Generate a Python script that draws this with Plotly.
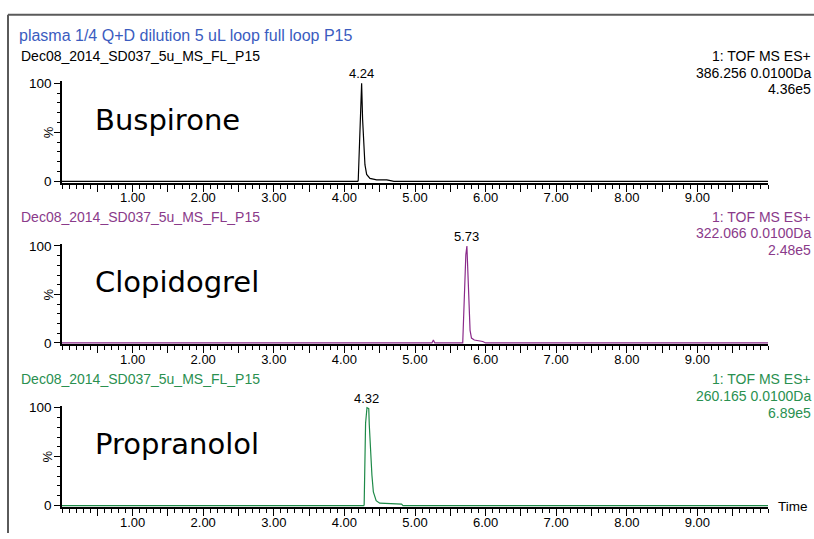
import plotly.graph_objects as go

# ---------------- data ----------------
time_axis_labels = ["1.00", "2.00", "3.00", "4.00", "5.00", "6.00", "7.00", "8.00", "9.00"]
time_axis_values = [1, 2, 3, 4, 5, 6, 7, 8, 9]

buspirone_time = [0.00, 4.19, 4.196, 4.21, 4.23, 4.244, 4.258, 4.272, 4.291, 4.315, 4.362, 4.457, 4.60, 4.67, 4.70, 10.00]
buspirone_pct = [0, 0, 1, 33, 70, 100, 63, 37, 17, 7, 3, 1.5, 1.5, 0.5, 0, 0]

clopidogrel_time = [0.00, 5.24, 5.26, 5.28, 5.676, 5.695, 5.72, 5.735, 5.76, 5.78, 5.80, 5.84, 5.96, 6.00, 10.00]
clopidogrel_pct = [0, 0, 3, 0, 0, 40, 91, 100, 40, 13, 5, 3, 1.5, 0, 0]

propranolol_time = [0.00, 4.275, 4.28, 4.30, 4.32, 4.345, 4.352, 4.37, 4.39, 4.41, 4.45, 4.50, 4.645, 4.81, 4.83, 10.00]
propranolol_pct = [0, 0, 1, 84, 100, 99, 83, 54, 31, 14, 5, 2.5, 2, 1.5, 0, 0]

compounds = ["Buspirone", "Clopidogrel", "Propranolol"]
peak_rt = [4.24, 5.73, 4.32]
peak_labels = ["4.24", "5.73", "4.32"]
sample_names = ["Dec08_2014_SD037_5u_MS_FL_P15"] * 3
mass_labels = ["386.256 0.0100Da", "322.066 0.0100Da", "260.165 0.0100Da"]
intensity_labels = ["4.36e5", "2.48e5", "6.89e5"]
scan_label = "1: TOF MS ES+"
header_title = "plasma 1/4 Q+D dilution 5 uL loop full loop P15"

# ---------------- styling / layout ----------------
W, H = 814, 539
colors = ["#000000", "#8a2a8a", "#1e8a48"]
text_colors = ["#000000", "#8a3a8a", "#2a9050"]
times = [buspirone_time, clopidogrel_time, propranolol_time]
pcts = [buspirone_pct, clopidogrel_pct, propranolol_pct]

# pixel positions of value 0 and 100 of each panel
panel_px = [(180, 80), (345, 246), (511, 411)]
label_rows = [52, 216, 382]
x_left_px, x_right_px = 62, 768
YMIN, YMAX = -1.5, 102


def px_x(p):
    return p / W


def px_y(p):
    return 1 - p / H


fig = go.Figure()
font_small = "Liberation Sans, Arial, sans-serif"

layout = dict(
    width=W, height=H,
    margin=dict(l=0, r=0, t=0, b=0),
    paper_bgcolor="white", plot_bgcolor="white",
    showlegend=False,
    font=dict(family=font_small, size=13, color="black"),
)
annotations = []
for i in range(3):
    n = "" if i == 0 else str(i + 1)
    y0, y100 = panel_px[i]
    ppu = (y0 - y100) / 100.0
    bottom = y0 - YMIN * ppu
    top = y0 - YMAX * ppu
    fig.add_trace(go.Scatter(
        x=times[i], y=pcts[i], mode="lines",
        line=dict(color=colors[i], width=1.2),
        xaxis="x" + n, yaxis="y" + n, hoverinfo="skip",
    ))
    layout["xaxis" + n] = dict(
        domain=[px_x(x_left_px), px_x(x_right_px)], range=[0, 10],
        anchor="y" + n, showgrid=False, zeroline=False,
        showline=True, linecolor="black", linewidth=2,
        ticks="outside", ticklen=7, tickwidth=1, tickcolor="black",
        tickvals=[v / 2 for v in range(1, 20)],
        ticktext=[time_axis_labels[time_axis_values.index(v / 2)] if (v / 2) in time_axis_values else "" for v in range(1, 20)],
        tickfont=dict(family=font_small, size=13, color="black"),
        ticklabelstandoff=-5,
        minor=dict(dtick=0.1, tick0=0, ticks="outside", ticklen=4, tickwidth=1, tickcolor="black"),
    )
    layout["yaxis" + n] = dict(
        domain=[px_y(bottom), px_y(top)], range=[YMIN, YMAX],
        anchor="x" + n, showgrid=False, zeroline=False,
        showline=True, linecolor="black", linewidth=1.5,
        ticks="outside", ticklen=6, tickwidth=1, tickcolor="black",
        tickvals=[0, 50, 100], ticktext=["0", "", "100"],
        tickfont=dict(family=font_small, size=13.5, color="black"),
        minor=dict(tickvals=[10, 20, 30, 40, 60, 70, 80, 90], ticks="outside", ticklen=3, tickwidth=1, tickcolor="black"),
    )
    # % label
    annotations.append(dict(text="%", x=px_x(48), y=px_y((y0 + y100) / 2), xref="paper", yref="paper",
                            showarrow=False, textangle=-90, xanchor="center", yanchor="middle",
                            font=dict(family=font_small, size=13, color="black")))
    row = label_rows[i]
    annotations.append(dict(text=sample_names[i], x=px_x(19), y=px_y(row), xref="paper", yref="paper",
                            showarrow=False, xanchor="left", yanchor="middle",
                            font=dict(family=font_small, size=14, color=text_colors[i])))
    for k, t in enumerate([scan_label, mass_labels[i], intensity_labels[i]]):
        annotations.append(dict(text=t, x=px_x(813), y=px_y(row + 17 * k), xref="paper", yref="paper",
                                showarrow=False, xanchor="right", yanchor="middle",
                                font=dict(family=font_small, size=14, color=text_colors[i])))
    # peak label
    annotations.append(dict(text=peak_labels[i], x=peak_rt[i], y=100, xref="x" + n, yref="y" + n,
                            showarrow=False, xanchor="center", yanchor="bottom", yshift=0,
                            font=dict(family=font_small, size=13, color="black")))
    # compound name
    annotations.append(dict(text=compounds[i], x=px_x(93), y=px_y(y100 + 37), xref="paper", yref="paper",
                            showarrow=False, xanchor="left", yanchor="middle",
                            font=dict(family="DejaVu Sans, Verdana, sans-serif", size=29, color="black")))

annotations.append(dict(text=header_title, x=px_x(17), y=px_y(31), xref="paper", yref="paper",
                        showarrow=False, xanchor="left", yanchor="middle",
                        font=dict(family=font_small, size=16, color="#3b5cc0")))
annotations.append(dict(text="Time", x=px_x(776), y=px_y(512), xref="paper", yref="paper",
                        showarrow=False, xanchor="left", yanchor="middle",
                        font=dict(family=font_small, size=13.5, color="black")))
layout["annotations"] = annotations
layout["shapes"] = [
    dict(type="line", xref="paper", yref="paper", x0=px_x(8), x1=1, y0=px_y(10), y1=px_y(10),
         line=dict(color="#5a5a5a", width=2)),
    dict(type="line", xref="paper", yref="paper", x0=px_x(8), x1=px_x(8), y0=px_y(10), y1=0,
         line=dict(color="#5a5a5a", width=2)),
]
fig.update_layout(**layout)
# remove the default page margin so the 814x539 figure fills the window exactly
fig.write_html("out.html", config={"displayModeBar": False},
               post_script="document.body.style.margin='0';document.body.style.overflow='hidden';")
